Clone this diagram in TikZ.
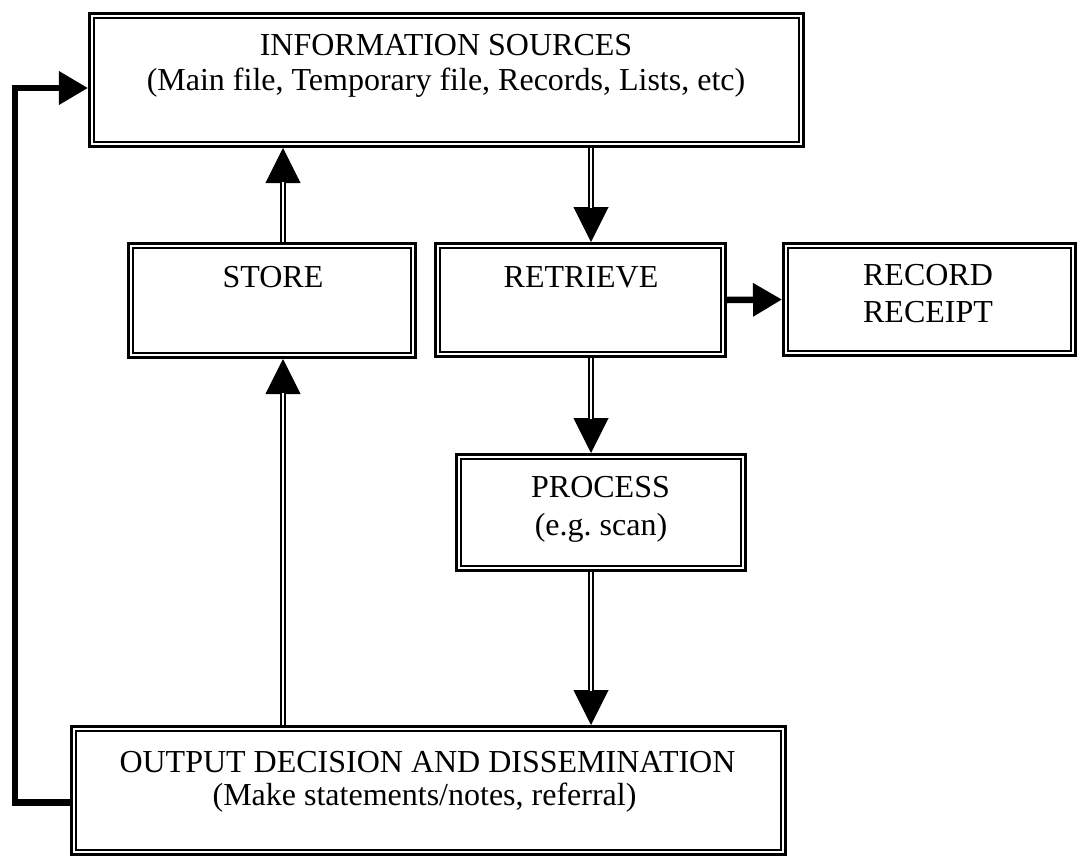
\documentclass[tikz,border=0pt]{standalone}
\usepackage{fontspec}
\setmainfont{Liberation Serif}
\usetikzlibrary{arrows.meta}
\frenchspacing
\tikzset{
  boxst/.style={draw, line width=3bp, inner sep=0pt, fill=white,
    path picture={\draw[line width=1.8bp]
      ([shift={(4.7bp,-4.7bp)}]path picture bounding box.north west) rectangle
      ([shift={(-4.7bp,4.7bp)}]path picture bounding box.south east);}},
  txt/.style={anchor=base, inner sep=0pt, font=\fontsize{32bp}{38bp}\selectfont},
  head/.style={-{Triangle[length=35bp,width=35bp]}, line width=1bp},
  shaft/.style={double, line width=2.2bp, double distance=2.5bp, shorten >=34bp},
  thickarrow/.style={-{Triangle[length=29bp,width=32bp]}, line width=6.5bp, line join=miter},
}
\begin{document}
\begin{tikzpicture}[x=1bp,y=-1bp]
\useasboundingbox (0,0) rectangle (1082,856);
% boxes
\node[boxst, minimum width=714bp, minimum height=133bp] (info) at (446.5,80) {};
\node[boxst, minimum width=287bp, minimum height=114bp] (store) at (272,300.5) {};
\node[boxst, minimum width=290bp, minimum height=113bp] (retr) at (580.5,300) {};
\node[boxst, minimum width=292bp, minimum height=112bp] (rec) at (929.5,299.5) {};
\node[boxst, minimum width=289bp, minimum height=116bp] (proc) at (601,512.5) {};
\node[boxst, minimum width=714bp, minimum height=128bp] (out) at (428.5,790.5) {};
% texts
\node[txt] (t1) at (446,55) {INFORMATION SOURCES};
\node[txt] (t2) at (446,90) {(Main file, Temporary file, Records, Lists, etc)};
\node[txt] (t3) at (273,287) {STORE};
\node[txt] (t4) at (581,287) {RETRIEVE};
\node[txt] (t5) at (928,285) {RECORD};
\node[txt] (t6) at (928,322) {RECEIPT};
\node[txt] (t7) at (600.5,497) {PROCESS};
\node[txt] (t8) at (601,535) {(e.g. scan)};
\node[txt] (t9) at (427.5,772) {OUTPUT DECISION AND DISSEMINATION};
\node[txt] (t10) at (424.5,805) {(Make statements/notes, referral)};
% columns
\coordinate (colA) at (283,0);
\coordinate (colB) at (591,0);
\coordinate (loop) at (15,88);
% double-line connectors
\draw[head] (store.north -| colA) -- (info.south -| colA);
\draw[shaft] (store.north -| colA) -- (info.south -| colA);
\draw[head] (info.south -| colB) -- (retr.north -| colB);
\draw[shaft] (info.south -| colB) -- (retr.north -| colB);
\draw[head] (retr.south -| colB) -- (proc.north -| colB);
\draw[shaft] (retr.south -| colB) -- (proc.north -| colB);
\draw[head] (proc.south -| colB) -- (out.north -| colB);
\draw[shaft] (proc.south -| colB) -- (out.north -| colB);
\draw[head] (out.north -| colA) -- (store.south -| colA);
\draw[shaft] (out.north -| colA) -- (store.south -| colA);
% thick connectors
\draw[thickarrow] (retr.east) -- (rec.west);
\draw[thickarrow] ([yshift=-12bp]out.west) -| (loop) -- (info.west |- loop);
\end{tikzpicture}
\end{document}
